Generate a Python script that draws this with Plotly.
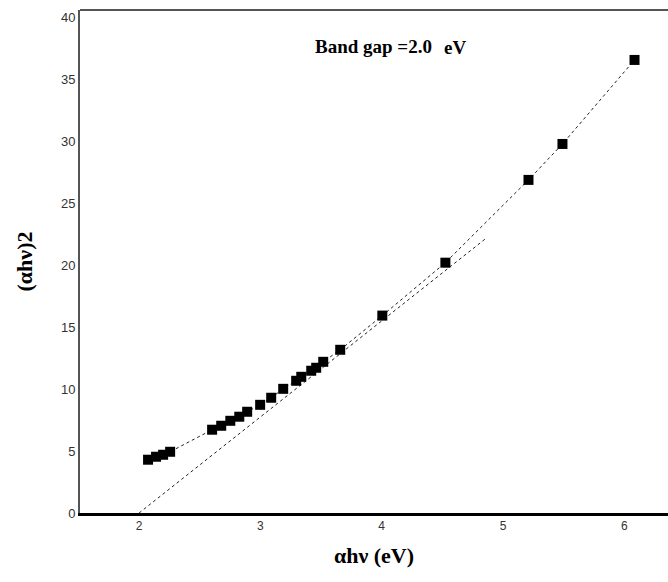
import plotly.graph_objects as go

# Photon energy (eV) and (alpha h nu)^2 measurements
energy = [2.074, 2.140, 2.198, 2.256,
          2.602, 2.677, 2.752, 2.826, 2.891,
          2.998, 3.089, 3.188, 3.295, 3.337, 3.419, 3.460, 3.518, 3.658,
          4.005, 4.525, 5.210, 5.490, 6.084]
ahv_sq = [4.30, 4.54, 4.70, 4.94,
          6.72, 7.04, 7.44, 7.77, 8.17,
          8.73, 9.30, 10.02, 10.67, 10.99, 11.48, 11.72, 12.20, 13.17,
          15.93, 20.20, 26.88, 29.78, 36.56]

# Linear extrapolation of the absorption edge to the energy axis
band_gap = 2.0
fit_slope = 7.75
fit_end = 4.86
fit_x = [band_gap, fit_end]
fit_y = [fit_slope * (x - band_gap) for x in fit_x]

x_ticks = [2, 3, 4, 5, 6]
y_ticks = [0, 5, 10, 15, 20, 25, 30, 35, 40]

fig = go.Figure()

fig.add_trace(go.Scatter(
    x=fit_x, y=fit_y, mode="lines",
    line=dict(color="#222", width=1, dash="dot"),
    showlegend=False, hoverinfo="skip",
))

fig.add_trace(go.Scatter(
    x=energy, y=ahv_sq, mode="lines+markers",
    line=dict(color="#222", width=1, dash="dot"),
    marker=dict(symbol="square", size=10, color="black"),
    showlegend=False,
))

fig.add_annotation(
    x=3.436, y=37.65, xref="x", yref="y", xanchor="left", yanchor="middle",
    text="<b>Band gap =2.0</b>", showarrow=False,
    font=dict(family="Liberation Serif", size=19, color="black"),
)
fig.add_annotation(
    x=4.50, y=37.55, xref="x", yref="y", xanchor="left", yanchor="middle",
    text="<b>eV</b>", showarrow=False,
    font=dict(family="Liberation Serif", size=19, color="black"),
)

# top frame line
fig.add_shape(type="line", xref="paper", yref="paper", x0=0, x1=1, y0=1, y1=1,
              line=dict(color="#555", width=2))

fig.update_layout(
    width=668, height=582,
    margin=dict(l=80, r=0, t=10, b=69),
    paper_bgcolor="white", plot_bgcolor="white",
    xaxis=dict(
        range=[1.513, 6.36], tickvals=x_ticks, ticktext=[str(v) for v in x_ticks],
        showgrid=False, zeroline=False, showline=True, linecolor="black", linewidth=3,
        ticks="", tickfont=dict(family="Liberation Sans", size=12, color="#333"),
        title=dict(text="<b>αhν (eV)</b>", standoff=16,
                   font=dict(family="Liberation Serif", size=22, color="black")),
    ),
    yaxis=dict(
        range=[0, 40.59], tickvals=y_ticks, ticktext=[str(v) for v in y_ticks],
        showgrid=False, zeroline=False, showline=True, linecolor="#555", linewidth=2,
        ticks="", tickfont=dict(family="Liberation Sans", size=13, color="#333"),
        title=dict(text="<b>(αhν)2</b>", standoff=22,
                   font=dict(family="Liberation Serif", size=22, color="black")),
    ),
)

fig.write_html("out.html")
